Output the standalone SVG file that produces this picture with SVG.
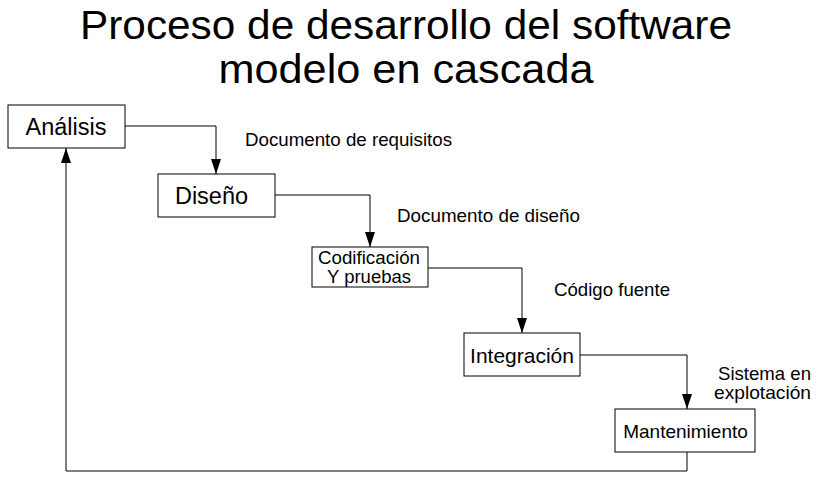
<svg xmlns="http://www.w3.org/2000/svg" width="821" height="485" viewBox="0 0 821 485">
<defs>
<marker id="ah" viewBox="0 0 15 10" refX="15" refY="5" markerWidth="15" markerHeight="10" markerUnits="userSpaceOnUse" orient="auto">
<path d="M0,0 L15,5 L0,10 Z" fill="#000"/>
</marker>
</defs>
<style>
text{font-family:"Liberation Sans",Arial,sans-serif;fill:#000}
.box{fill:#fff;stroke:#000;stroke-width:1}
.c{fill:none;stroke:#000;stroke-width:1}
.t{font-size:40px}
.lbl{font-size:18.5px}
</style>
<rect width="821" height="485" fill="#fff"/>
<text class="t" x="406" y="39" text-anchor="middle" textLength="652" lengthAdjust="spacingAndGlyphs">Proceso de desarrollo del software</text>
<text class="t" x="406" y="83" text-anchor="middle" textLength="375" lengthAdjust="spacingAndGlyphs">modelo en cascada</text>
<g id="connectors">
<path class="c" d="M125,126 H216 V174" marker-end="url(#ah)"/>
<path class="c" d="M275,195 H370 V247" marker-end="url(#ah)"/>
<path class="c" d="M428,268 H522 V333" marker-end="url(#ah)"/>
<path class="c" d="M580,355 H687 V409" marker-end="url(#ah)"/>
<path class="c" d="M687,452 V471 H66 V148" marker-end="url(#ah)"/>
</g>
<g id="lbl1"><text class="lbl" x="245" y="146" textLength="207" lengthAdjust="spacingAndGlyphs">Documento de requisitos</text></g>
<g id="lbl2"><text class="lbl" x="397" y="222" textLength="183" lengthAdjust="spacingAndGlyphs">Documento de diseño</text></g>
<g id="lbl3"><text class="lbl" x="554" y="296" textLength="116" lengthAdjust="spacingAndGlyphs">Código fuente</text></g>
<g id="lbl4"><text class="lbl" x="718" y="380" textLength="93" lengthAdjust="spacingAndGlyphs">Sistema en</text><text class="lbl" x="714" y="399" textLength="97" lengthAdjust="spacingAndGlyphs">explotación</text></g>
<g id="analisis"><rect class="box" x="8" y="105" width="117" height="43"/><text x="66" y="135" font-size="23.5" text-anchor="middle">Análisis</text></g>
<g id="diseno"><rect class="box" x="158" y="174" width="117" height="43"/><text x="211.5" y="204" font-size="23.5" text-anchor="middle">Diseño</text></g>
<g id="codificacion"><rect class="box" x="312" y="247" width="116" height="40"/><text x="369" y="264" font-size="17.5" text-anchor="middle" textLength="102" lengthAdjust="spacingAndGlyphs">Codificación</text><text x="369" y="282.5" font-size="17.5" text-anchor="middle" textLength="84" lengthAdjust="spacingAndGlyphs">Y pruebas</text></g>
<g id="integracion"><rect class="box" x="464" y="333" width="116" height="43"/><text x="522" y="363" font-size="21" text-anchor="middle">Integración</text></g>
<g id="mantenimiento"><rect class="box" x="615" y="409" width="140" height="43"/><text x="685.5" y="438" font-size="19" text-anchor="middle">Mantenimiento</text></g>
</svg>
